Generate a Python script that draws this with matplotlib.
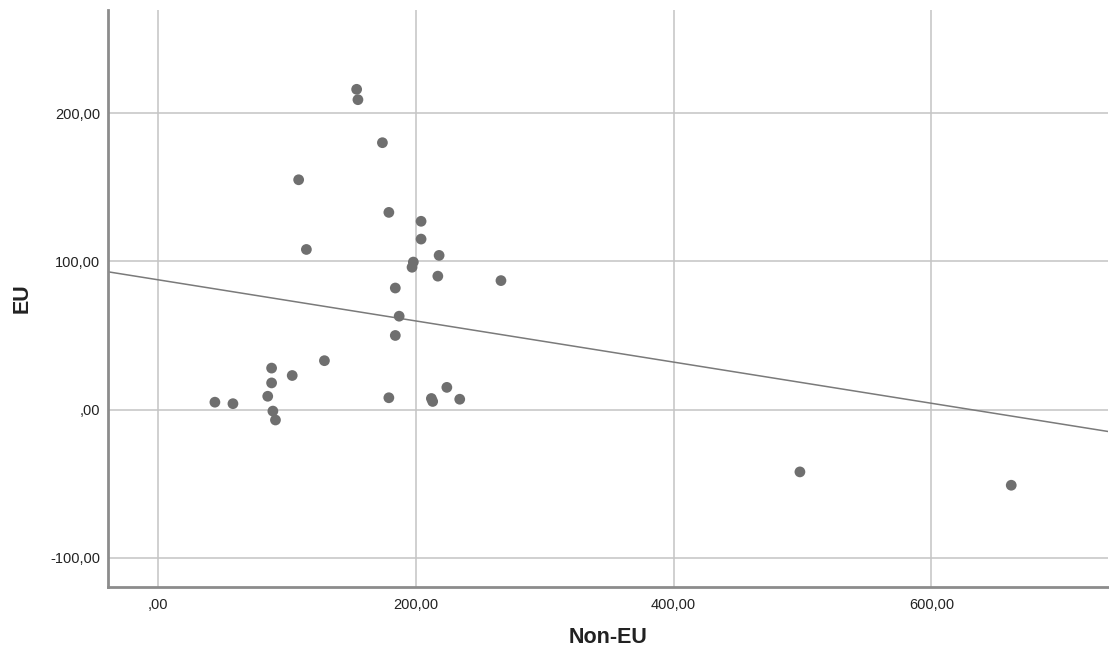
import numpy as np
import matplotlib
matplotlib.use("Agg")
import matplotlib.pyplot as plt
from matplotlib.ticker import FuncFormatter

plt.rcParams['font.family'] = ['Liberation Sans', 'DejaVu Sans']

non_eu = [44, 58, 88, 88, 85, 89, 91, 104, 129, 179, 184,
          154, 155, 174, 109, 179, 115, 184,
          204, 204, 218, 198, 197, 217, 266, 187,
          224, 212, 213, 234,
          498, 662]
eu = [5, 4, 28, 18, 9, -1, -7, 23, 33, 8, 50,
      216, 209, 180, 155, 133, 108, 82,
      127, 115, 104, 99.5, 96, 90, 87, 63,
      15, 7.5, 5.5, 7,
      -42, -51]

x_ticks = [0, 200, 400, 600]
y_ticks = [-100, 0, 100, 200]
x_label = "Non-EU"
y_label = "EU"

fig = plt.figure(figsize=(11.09, 6.52), dpi=100)
ax = fig.add_axes([0.0978, 0.1002, 0.9012, 0.8845])

xlim = (-38.6, 737)
ylim = (-119.4, 269.5)
ax.set_xlim(*xlim)
ax.set_ylim(*ylim)

ax.grid(True, color='#c4c4c4', linewidth=1.1)
ax.set_axisbelow(True)

ax.scatter(non_eu, eu, s=60, color='#6f6f6f', edgecolors='none', zorder=3)

slope, intercept = np.polyfit(non_eu, eu, 1)
xs = np.array(xlim)
ax.plot(xs, intercept + slope * xs, color='#7a7a7a', linewidth=1.1, zorder=2)


def fmt_func(v, p):
    s = f"{abs(v):.2f}".replace(".", ",")
    if s.startswith("0,"):
        s = s[1:]
    return ("-" if v < 0 else "") + s


ax.set_xticks(x_ticks)
ax.set_yticks(y_ticks)
ax.xaxis.set_major_formatter(FuncFormatter(fmt_func))
ax.yaxis.set_major_formatter(FuncFormatter(fmt_func))
ax.tick_params(length=0, labelsize=10.5, colors='#222222')
ax.tick_params(axis='y', pad=6)
ax.tick_params(axis='x', pad=8)

for s in ['top', 'right']:
    ax.spines[s].set_visible(False)
for s in ['left', 'bottom']:
    ax.spines[s].set_color('#8c8c8c')
    ax.spines[s].set_linewidth(2)

ax.set_xlabel(x_label, fontsize=15.5, fontweight='bold', color='#222222', va='center')
ax.set_ylabel(y_label, fontsize=15.5, fontweight='bold', color='#222222', va='center', ha='center')
ax.xaxis.set_label_coords(0.5, -0.089)
ax.yaxis.set_label_coords(-0.0866, 0.5)

fig.savefig("out.png", dpi=100)
